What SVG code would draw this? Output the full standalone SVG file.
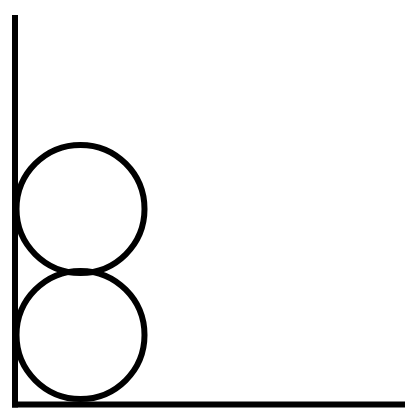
<svg xmlns="http://www.w3.org/2000/svg" width="420" height="420" viewBox="0 0 420 420">
<style>
.ax{stroke:#000;stroke-width:6;fill:none}
.c{stroke:#000;stroke-width:6;fill:none}
</style>
<rect width="420" height="420" fill="#fff"/>
<g id="axes">
<line class="ax" x1="15" y1="15" x2="15" y2="407.5"/>
<line class="ax" x1="12" y1="404.5" x2="405" y2="404.5"/>
</g>
<g id="circle-top"><circle class="c" cx="80.5" cy="209" r="64"/></g>
<g id="circle-bottom"><circle class="c" cx="80.5" cy="335" r="64"/></g>
</svg>
